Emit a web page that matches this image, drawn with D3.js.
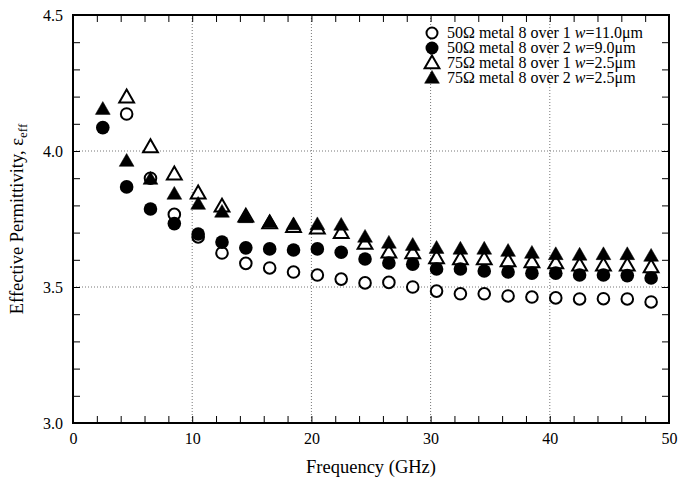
<!DOCTYPE html>
<html><head><meta charset="utf-8">
<script src="https://cdn.jsdelivr.net/npm/d3@7"></script>
<style>body{margin:0;background:#fff}svg{display:block}text{font-family:"Liberation Serif","Times New Roman",serif;fill:#000}</style>
</head><body><svg id="c" width="678" height="479"></svg>
<script>
const freqA = [2.5,4.5,6.5,8.5,10.5,12.5,14.5,16.5,18.5,20.5,22.5,24.5,26.5,28.5,30.5,32.5,34.5,36.5,38.5,40.5,42.5,44.5,46.5,48.5];
const freqB = freqA.slice(1);
const open50 = [4.136,3.900,3.767,3.684,3.625,3.587,3.570,3.555,3.544,3.529,3.515,3.517,3.500,3.485,3.475,3.475,3.467,3.463,3.460,3.456,3.457,3.456,3.445];
const filled50 = [4.086,3.868,3.787,3.733,3.695,3.665,3.644,3.640,3.636,3.640,3.628,3.603,3.588,3.584,3.566,3.566,3.559,3.555,3.551,3.551,3.544,3.544,3.542,3.533];
const open75 = [4.198,4.015,3.915,3.845,3.797,3.760,3.735,3.722,3.716,3.700,3.660,3.628,3.625,3.607,3.603,3.603,3.596,3.592,3.588,3.580,3.580,3.580,3.574];
const filled75 = [4.154,3.963,3.897,3.842,3.805,3.776,3.756,3.739,3.730,3.730,3.728,3.684,3.662,3.654,3.643,3.640,3.640,3.632,3.625,3.620,3.618,3.620,3.620,3.614];
const legendLabels = ["50Ω metal 8 over 1 |w|=11.0μm","50Ω metal 8 over 2 |w|=9.0μm","75Ω metal 8 over 1 |w|=2.5μm","75Ω metal 8 over 2 |w|=2.5μm"];
const xTicks = [0,10,20,30,40,50];
const yTicks = [3.0,3.5,4.0,4.5];

const svg = d3.select("#c");
const L=73,R=669,T=15,B=423;
const x = d3.scaleLinear().domain([0,50]).range([L,R]);
const y = d3.scaleLinear().domain([3.0,4.5]).range([B,T]);

// grid
const g = svg.append("g");
g.selectAll(".gx").data([10,20,30,40]).enter().append("line")
 .attr("x1",d=>x(d)).attr("x2",d=>x(d)).attr("y1",T).attr("y2",B)
 .attr("stroke","#777").attr("stroke-width",1).attr("stroke-dasharray","1,2");
g.selectAll(".gy").data([3.5,4.0]).enter().append("line")
 .attr("y1",d=>y(d)).attr("y2",d=>y(d)).attr("x1",L).attr("x2",R)
 .attr("stroke","#777").attr("stroke-width",1).attr("stroke-dasharray","1,2");

// axes with inward ticks
const xMinor = d3.range(0,50.01,2);
const yMinor = d3.range(3.0,4.501,0.1);
const tl = 7;
svg.append("g").attr("transform",`translate(0,${B})`)
 .call(d3.axisBottom(x).tickValues(xMinor).tickSize(-tl).tickFormat(""))
 .call(a=>a.select(".domain").remove()).selectAll("line").attr("stroke-width",1);
svg.append("g").attr("transform",`translate(0,${T})`)
 .call(d3.axisTop(x).tickValues(xMinor).tickSize(-tl).tickFormat(""))
 .call(a=>a.select(".domain").remove()).selectAll("line").attr("stroke-width",1);
svg.append("g").attr("transform",`translate(${L},0)`)
 .call(d3.axisLeft(y).tickValues(yMinor).tickSize(-tl).tickFormat(""))
 .call(a=>a.select(".domain").remove()).selectAll("line").attr("stroke-width",1);
svg.append("g").attr("transform",`translate(${R},0)`)
 .call(d3.axisRight(y).tickValues(yMinor).tickSize(-tl).tickFormat(""))
 .call(a=>a.select(".domain").remove()).selectAll("line").attr("stroke-width",1);

// tick labels
svg.append("g").attr("transform",`translate(0,${B})`)
 .call(d3.axisBottom(x).tickValues(xTicks).tickSize(0).tickPadding(10).tickFormat(d3.format("d")))
 .call(a=>a.select(".domain").remove())
 .selectAll("text").style("font-family","Liberation Serif").style("font-size","16px").attr("fill","#000");
svg.append("g").attr("transform",`translate(${L},0)`)
 .call(d3.axisLeft(y).tickValues(yTicks).tickSize(0).tickPadding(10).tickFormat(d3.format(".1f")))
 .call(a=>a.select(".domain").remove())
 .selectAll("text").style("font-family","Liberation Serif").style("font-size","16px").attr("fill","#000");

// frame
svg.append("rect").attr("x",L).attr("y",T).attr("width",R-L).attr("height",B-T)
 .attr("fill","none").attr("stroke","#000").attr("stroke-width",2);

// markers
const tri = d3.symbol().type(d3.symbolTriangle).size(95);
function drawSeries(xs, ys, kind, filled){
  const sel = svg.append("g").selectAll("path").data(ys).enter();
  if(kind==="circle"){
    sel.append("circle").attr("cx",(d,i)=>x(xs[i])).attr("cy",d=>y(d))
      .attr("r",filled?6.8:5.8).attr("fill",filled?"#000":"#fff").attr("stroke","#000").attr("stroke-width",filled?0:2);
  } else {
    sel.append("path").attr("d",tri).attr("transform",(d,i)=>`translate(${x(xs[i])},${y(d)+1})`)
      .attr("fill",filled?"#000":"#fff").attr("stroke","#000").attr("stroke-width",filled?0.5:2);
  }
}
drawSeries(freqB, open75, "tri", false);
drawSeries(freqB, open50, "circle", false);
drawSeries(freqA, filled50, "circle", true);
drawSeries(freqA, filled75, "tri", true);

// legend
const lg = svg.append("g");
const kinds=[["circle",false],["circle",true],["tri",false],["tri",true]];
legendLabels.forEach((lab,i)=>{
  const cy = 33 + i*15;
  const [k,f]=kinds[i];
  if(k==="circle") lg.append("circle").attr("cx",432).attr("cy",cy).attr("r",f?6.5:5.5)
     .attr("fill",f?"#000":"#fff").attr("stroke","#000").attr("stroke-width",f?0:2);
  else lg.append("path").attr("d",tri).attr("transform",`translate(432,${cy+1})`)
     .attr("fill",f?"#000":"#fff").attr("stroke","#000").attr("stroke-width",f?0.5:2);
  const parts = lab.split("|");
  const t = lg.append("text").attr("x",447).attr("y",cy+5).style("font-size","16px");
  t.append("tspan").text(parts[0]);
  t.append("tspan").style("font-style","italic").text(parts[1]);
  t.append("tspan").text(parts[2]);
});

// axis titles
svg.append("text").attr("x",(L+R)/2).attr("y",473).attr("text-anchor","middle").style("font-size","18.5px").text("Frequency (GHz)");
const yt = svg.append("text").attr("transform",`translate(23,${(T+B)/2}) rotate(-90)`).attr("text-anchor","middle").style("font-size","18.5px");
yt.append("tspan").text("Effective Permittivity, ε");
yt.append("tspan").attr("dy",4).style("font-size","13px").text("eff");
</script></body></html>
